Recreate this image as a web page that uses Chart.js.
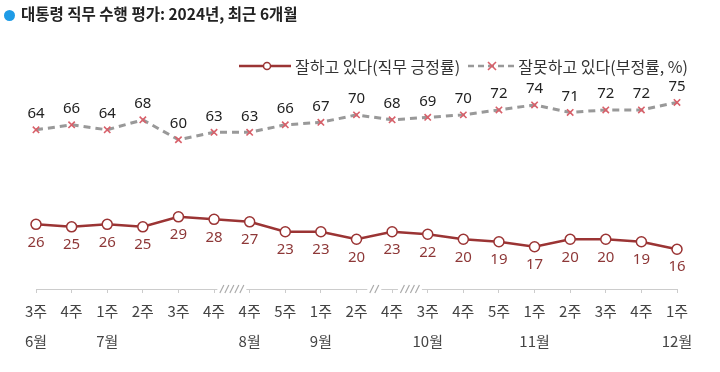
<!DOCTYPE html>
<html>
<head>
<meta charset="utf-8">
<script src="https://cdn.jsdelivr.net/npm/chart.js@4"></script>
<style>
  body { margin: 0; background: #fff; font-family: "Noto Sans CJK KR", "Noto Sans", sans-serif; }
  #wrap { position: relative; width: 720px; height: 372px; }
  #title { position: absolute; left: 4px; top: 2px; font-size: 15.5px; font-weight: bold; color: #222; white-space: nowrap; }
  #title .dot { display: inline-block; width: 11px; height: 11px; border-radius: 50%; background: #1e9be6; margin-right: 6px; vertical-align: -1px; }
  #legend { position: absolute; right: 32px; top: 51px; font-size: 16px; color: #333; white-space: nowrap; }
  #legend span, #legend svg { vertical-align: middle; }
  canvas { position: absolute; left: 0; top: 0; }
</style>
</head>
<body>
<div id="wrap">
  <canvas id="poll" width="720" height="372"></canvas>
  <div id="title"><span class="dot"></span>대통령 직무 수행 평가: 2024년, 최근 6개월</div>
  <div id="legend">
    <svg width="52" height="10"><line x1="0" y1="5" x2="52" y2="5" stroke="#9b3434" stroke-width="2.5"/><circle cx="28" cy="5" r="3.5" fill="#fff" stroke="#9b3434" stroke-width="1.5"/></svg>
    <span>잘하고 있다(직무 긍정률)</span>
    <svg width="47" height="10" style="margin-left:4px"><line x1="0" y1="5" x2="47" y2="5" stroke="#999" stroke-width="2.5" stroke-dasharray="6,4"/><path d="M20 1 L28 9 M28 1 L20 9" stroke="#d9606a" stroke-width="1.6"/></svg>
    <span>잘못하고 있다(부정률, %)</span>
  </div>
</div>
<script>
const weeks = ['3주','4주','1주','2주','3주','4주','4주','5주','1주','2주','4주','3주','4주','5주','1주','2주','3주','4주','1주'];
const months = ['6월','','7월','','','','8월','','9월','','','10월','','','11월','','','','12월'];
const positive = [26,25,26,25,29,28,27,23,23,20,23,22,20,19,17,20,20,19,16];
const negative = [64,66,64,68,60,63,63,66,67,70,68,69,70,72,74,71,72,72,75];
// break marks between ticks: [index before gap, number of slashes]
const breaks = [[5, 5], [9, 2], [10, 4]];

const labels = weeks.map((w, i) => [w, months[i]]);

const valueLabels = {
	id: 'valueLabels',
	afterDatasetsDraw(chart) {
		const ctx = chart.ctx;
		ctx.save();
		ctx.textAlign = 'center';
		ctx.textBaseline = 'middle';
		chart.data.datasets.forEach((ds, i) => {
			const meta = chart.getDatasetMeta(i);
			meta.data.forEach((pt, j) => {
				if (i === 0) {
					ctx.fillStyle = '#8e3838';
					ctx.font = '15px "Noto Sans", sans-serif';
					ctx.fillText(ds.data[j], pt.x, pt.y + 18);
				} else {
					ctx.fillStyle = '#222';
					ctx.font = '15px "Noto Sans", sans-serif';
					ctx.fillText(ds.data[j], pt.x, pt.y - 16);
				}
			});
		});
		ctx.restore();
	}
};

const breakMarks = {
	id: 'breakMarks',
	afterDraw(chart) {
		const ctx = chart.ctx;
		const x = chart.scales.x;
		const y = chart.chartArea.bottom;
		ctx.save();
		ctx.strokeStyle = '#aaa';
		ctx.lineWidth = 1.2;
		breaks.forEach(([i, n]) => {
			const cx = (x.getPixelForTick(i) + x.getPixelForTick(i + 1)) / 2;
			const w = n * 5;
			ctx.fillStyle = '#fff';
			ctx.fillRect(cx - w / 2 - 2, y - 2, w + 4, 4);
			for (let k = 0; k < n; k++) {
				const sx = cx - w / 2 + k * 5 + 2.5;
				ctx.beginPath();
				ctx.moveTo(sx - 2, y + 4);
				ctx.lineTo(sx + 2, y - 4);
				ctx.stroke();
			}
		});
		ctx.restore();
	}
};

new Chart(document.getElementById('poll'), {
	type: 'line',
	data: {
		labels: labels,
		datasets: [{
			label: '잘하고 있다(직무 긍정률)',
			data: positive,
			borderColor: '#9b3434',
			borderWidth: 2.5,
			pointStyle: 'circle',
			pointRadius: 5,
			pointBorderWidth: 1.5,
			pointBackgroundColor: '#fff',
			pointBorderColor: '#9b3434',
			tension: 0
		}, {
			label: '잘못하고 있다(부정률, %)',
			data: negative,
			borderColor: '#999',
			borderWidth: 3,
			borderDash: [7, 5],
			pointStyle: 'crossRot',
			pointRadius: 4.5,
			pointBorderWidth: 1.6,
			pointBorderColor: '#d9606a',
			tension: 0
		}]
	},
	options: {
		responsive: false,
		animation: false,
		layout: { padding: { left: 36, right: 43, top: 90, bottom: 13 } },
		plugins: { legend: { display: false }, tooltip: { enabled: false } },
		scales: {
			x: {
				offset: false,
				grid: { display: true, drawOnChartArea: false, tickLength: 4, color: '#ccc' },
				border: { color: '#ccc' },
				ticks: {
					color: '#444',
					padding: 3,
					autoSkip: false,
					maxRotation: 0,
					font: { size: 15, family: '"Noto Sans CJK KR", sans-serif', lineHeight: 2.0 }
				}
			},
			y: { display: false, min: 0, max: 80 }
		}
	},
	plugins: [valueLabels, breakMarks]
});
</script>
</body>
</html>
